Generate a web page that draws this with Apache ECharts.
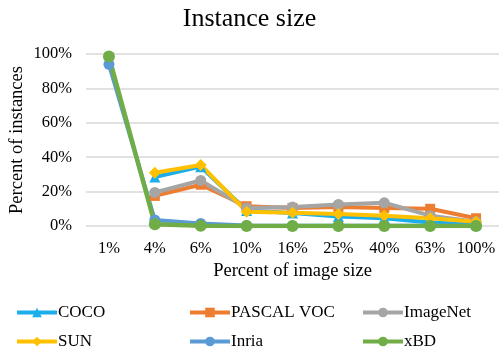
<!DOCTYPE html>
<html><head><meta charset="utf-8">
<script src="https://cdn.jsdelivr.net/npm/echarts@6/dist/echarts.min.js"></script>
<style>html,body{margin:0;padding:0;background:#fff}#c{width:499px;height:358px}</style>
</head><body><div id="c"></div>
<script>
const categories = ['1%','4%','6%','10%','16%','25%','40%','63%','100%'];
const coco     = [null, 28.5, 34.5, 9, 7.5, 5.5, 4.5, 2, 1];
const pascal   = [null, 17.5, 24, 11.5, 10.5, 11, 10.5, 10, 4.5];
const imagenet = [null, 19.5, 26.5, 10.5, 11, 12.5, 13.5, 6, 2.5];
const sun      = [null, 31, 35.5, 8.3, 7.7, 7, 6, 4.5, 2.5];
const inria    = [94, 3.5, 1.5, 0.3, 0.1, 0.1, 0.1, 0.1, 0.1];
const xbd      = [98.5, 1, 0.2, 0, 0, 0, 0, 0, 0];
const yTicks   = [0, 20, 40, 60, 80, 100];

const font = '"Liberation Serif", "Times New Roman", serif';
const defs = [
  {name:'COCO', data:coco, color:'#1BAEEB', symbol:'triangle', size:11, w:4},
  {name:'PASCAL VOC', data:pascal, color:'#ED7D31', symbol:'rect', size:10, w:4},
  {name:'ImageNet', data:imagenet, color:'#A5A5A5', symbol:'circle', size:11, w:4},
  {name:'SUN', data:sun, color:'#FFC000', symbol:'diamond', size:12, w:4},
  {name:'Inria', data:inria, color:'#5B9BD5', symbol:'circle', size:11, w:4},
  {name:'xBD', data:xbd, color:'#70AD47', symbol:'circle', size:12, w:4.5}
];
const legendPos = [[15,304],[188,304],[361,304],[15,333],[188,333],[361,333]];
const chart = echarts.init(document.getElementById('c'));
chart.setOption({
  animation:false,
  title:{text:'Instance size', left:'center', top:1, textStyle:{fontFamily:font, fontSize:26, fontWeight:'normal', color:'#000'}},
  legend: defs.map((d,i)=>({data:[d.name], left:legendPos[i][0], top:legendPos[i][1], itemWidth:40, itemHeight:12, itemGap:0, padding:0,
    lineStyle:{width:4}, 
    textStyle:{fontFamily:font, fontSize:17, color:'#000', padding:[0,0,0,-4]}})),
  grid:{left:86, right:0, top:54, bottom:132, containLabel:false, outerBoundsMode:'none'},
  xAxis:{type:'category', data:categories, boundaryGap:true,
    name:'Percent of image size', nameLocation:'middle', nameGap:36, nameMoveOverlap:false,
    nameTextStyle:{fontFamily:font, fontSize:18.5, color:'#000'},
    axisLine:{show:false}, axisTick:{show:false},
    axisLabel:{fontFamily:font, fontSize:16.5, color:'#000', margin:14, interval:0}},
  yAxis:{type:'value', min:0, max:100, interval:20,
    name:'Percent of instances', nameLocation:'middle', nameGap:59, nameMoveOverlap:false,
    nameTextStyle:{fontFamily:font, fontSize:18.5, color:'#000'},
    axisLabel:{fontFamily:font, fontSize:16.5, color:'#000', margin:14, formatter:v=>yTicks.includes(v)?v+'%':''},
    splitLine:{lineStyle:{color:'#D9D9D9', width:1.5}}},
  series: defs.map(d=>({name:d.name, type:'line', data:d.data, symbol:d.symbol, symbolSize:d.size,
    showAllSymbol:true, lineStyle:{width:d.w, color:d.color}, itemStyle:{color:d.color}, color:d.color}))
});
</script></body></html>
